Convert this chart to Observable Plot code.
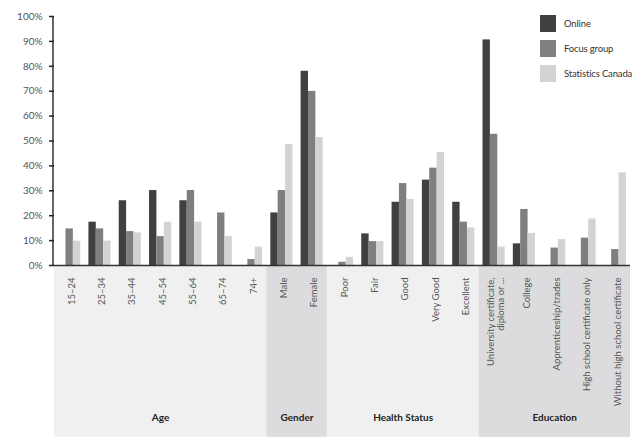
<!DOCTYPE html>
<html>
<head>
<meta charset="utf-8">
<script src="https://cdn.jsdelivr.net/npm/d3@7"></script>
<script src="https://cdn.jsdelivr.net/npm/@observablehq/plot@0.6"></script>
<style>
  html, body { margin: 0; padding: 0; background: #fff; }
  #wrap { position: relative; width: 635px; height: 441px; font-family: Lato, sans-serif; overflow: hidden; }
  #legend { position: absolute; left: 540px; top: 15px; font-size: 9.5px; color: #333; white-space: nowrap; letter-spacing: -0.15px; }
  .row { display: flex; align-items: center; height: 17px; margin-bottom: 8px; }
  .sw { width: 16px; height: 17px; margin-right: 8px; flex: none; }
</style>
</head>
<body>
<div id="wrap"><div id="legend"></div></div>
<script>
const categories = ["15–24","25–34","35–44","45–54","55–64","65–74","74+",
  "Male","Female",
  "Poor","Fair","Good","Very Good","Excellent",
  "University certificate,\ndiploma or ...","College","Apprenticeship/trades","High school certificate only","Without high school certificate"];
const groups = ["Age","Gender","Health Status","Education"];
const groupSizes = [7, 2, 5, 5];
const series = ["Online","Focus group","Statistics Canada"];
const online      = [null,17.4,26,30.1,26,null,null, 21.1,78, null,12.7,25.4,34.3,25.4, 90.6,8.7,null,null,null];
const focusGroup  = [14.7,14.7,13.6,11.6,30.1,21.1,2.4, 30.1,69.9, 1.3,9.6,32.9,39.1,17.4, 52.7,22.5,7,11,6.4];
const statsCanada = [9.8,9.8,13.1,17.4,17.4,11.6,7.4, 48.6,51.4, 3.3,9.6,26.5,45.4,15.1, 7.4,12.9,10.4,18.7,37.2];
const yTicks = [0,10,20,30,40,50,60,70,80,90,100];

const colors = ["#404040","#7f7f80","#d3d3d5"];
const bandFills = ["#f0f0f0","#dcdcde","#f0f0f0","#dcdcde"];

// build tables
const valuesBySeries = [online, focusGroup, statsCanada];
const groupW = 0.73, barW = groupW / 3;
const bars = [];
categories.forEach((c, i) => {
  series.forEach((s, k) => {
    const v = valuesBySeries[k][i];
    if (v != null) bars.push({i, s, v, x1: i - groupW/2 + k*barW, x2: i - groupW/2 + (k+1)*barW});
  });
});
let start = 0;
const groupTable = groups.map((g, j) => {
  const row = {g, x1: start - 0.5, x2: start + groupSizes[j] - 0.5, xc: start + (groupSizes[j]-1)/2, fill: bandFills[j]};
  start += groupSizes[j];
  return row;
});

const chart = Plot.plot({
  width: 635, height: 441,
  marginLeft: 54, marginRight: 5, marginTop: 16, marginBottom: 176,
  style: {fontFamily: "Lato, sans-serif", fontSize: "10px", color: "#333", background: "transparent"},
  x: {type: "linear", domain: [-0.5, 18.5], axis: null},
  y: {domain: [0, 100], axis: null},
  color: {domain: series, range: colors},
  marks: [
    Plot.rect(groupTable, {x1: "x1", x2: "x2", y1: 0, y2: -69, fill: "fill"}),
    Plot.rectY(bars, {x1: "x1", x2: "x2", y: "v", fill: "s"}),
    Plot.ruleY([0], {stroke: "#333", strokeWidth: 1.5}),
    Plot.ruleX([-0.55], {y1: 0, y2: 100, stroke: "#333", strokeWidth: 1.5}),
    Plot.axisY({ticks: yTicks, tickFormat: d => d + "%", tickSize: 5, tickPadding: 7, stroke: "#222", strokeWidth: 1.5, fontSize: 10, fill: "#555", label: null}),
    Plot.text(categories, {x: (d, i) => i, y: 0, dy: 12, dx: 2, rotate: -90, textAnchor: "end", fontSize: 9.5, fill: "#555", lineHeight: 1.05}),
    Plot.text(groupTable, {x: "xc", y: 0, dy: 152, text: "g", fontWeight: "bold", fontSize: 10, fill: "#222"})
  ]
});
document.getElementById("wrap").prepend(chart);

const legend = document.getElementById("legend");
series.forEach((s, k) => {
  const row = document.createElement("div");
  row.className = "row";
  row.innerHTML = `<div class="sw" style="background:${colors[k]}"></div><span>${s}</span>`;
  legend.appendChild(row);
});
</script>
</body>
</html>
